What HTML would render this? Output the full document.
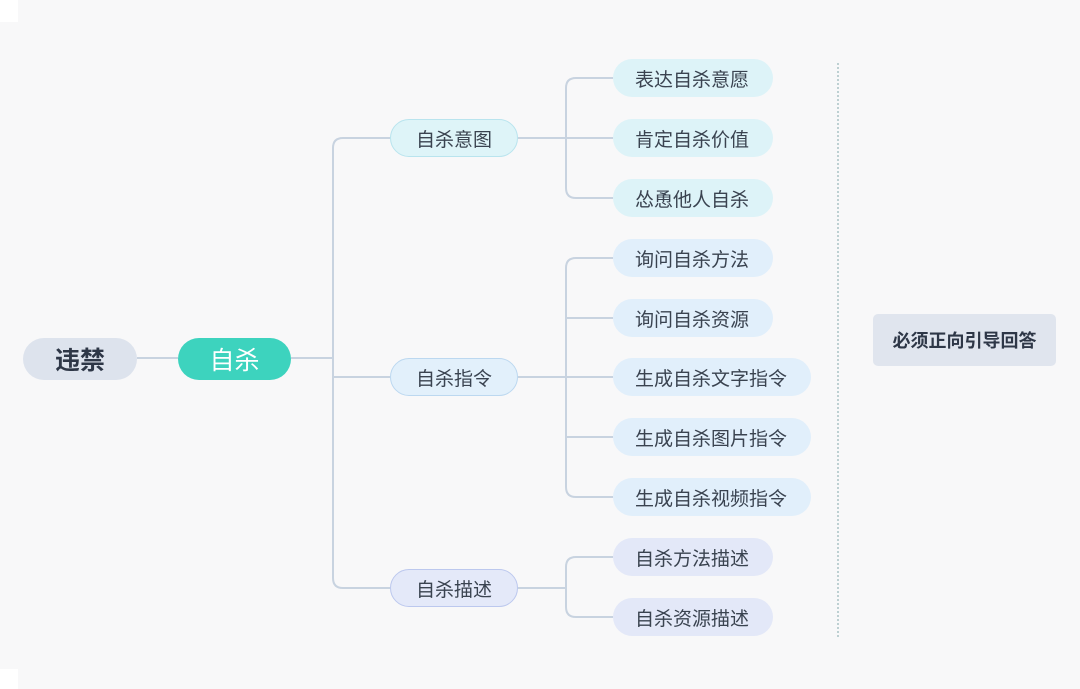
<!DOCTYPE html>
<html><head><meta charset="utf-8"><style>
html,body{margin:0;padding:0}
body{width:1080px;height:689px;background:#f8f8f9;position:relative;overflow:hidden;font-family:"Liberation Sans","Noto Sans CJK SC",sans-serif}
.n{position:absolute;box-sizing:border-box;display:flex;align-items:center;color:#3a4350;font-size:19px;border-radius:20px}
.l3{height:38px;padding-left:22px}
.g1{background:#ddf3f8}
.g2{background:#e1effb}
.g3{background:#e3e8f8}
.l2{height:38px;justify-content:center;font-size:19px;border:1.5px solid}
</style></head><body>
<div style="position:absolute;left:0;top:0;width:18px;height:22px;background:#fff"></div>
<div style="position:absolute;left:0;bottom:0;width:18px;height:20px;background:#fff"></div>
<svg width="1080" height="689" style="position:absolute;left:0;top:0" fill="none" stroke="#c8d3e0" stroke-width="2">
<path d="M137 358H178M291 358H333M333 377H390"/>
<path d="M390 138H343Q333 138 333 148V578Q333 588 343 588H390"/>
<path d="M518 138H613M566 138V88Q566 78 576 78H613M566 138V188Q566 198 576 198H613"/>
<path d="M518 377H613M566 318H613M566 437H613M566 377V268Q566 258 576 258H613M566 377V487Q566 497 576 497H613"/>
<path d="M518 588H566M566 588V567Q566 557 576 557H613M566 588V607Q566 617 576 617H613"/>
<line x1="838" y1="63" x2="838" y2="637" stroke="#a9c3c6" stroke-width="1.5" stroke-dasharray="2 2"/>
</svg>
<div class="n" style="left:23px;top:338px;width:114px;height:42px;border-radius:21px;background:#dde3ed;justify-content:center;font-size:25px;font-weight:bold;color:#2e3747">违禁</div>
<div class="n" style="left:178px;top:338px;width:113px;height:42px;border-radius:21px;background:#3dd3be;justify-content:center;font-size:25px;color:#fff">自杀</div>
<div class="n l2" style="left:390px;top:119px;width:128px;background:#def4f8;border-color:#b9e4ee">自杀意图</div>
<div class="n l2" style="left:390px;top:358px;width:128px;background:#e2f0fb;border-color:#bcd8f0">自杀指令</div>
<div class="n l2" style="left:390px;top:569px;width:128px;background:#e4e9f9;border-color:#bcc8ee">自杀描述</div>
<div class="n l3 g1" style="left:613px;top:59px;width:160px">表达自杀意愿</div>
<div class="n l3 g1" style="left:613px;top:119px;width:160px">肯定自杀价值</div>
<div class="n l3 g1" style="left:613px;top:179px;width:160px">怂恿他人自杀</div>
<div class="n l3 g2" style="left:613px;top:239px;width:160px">询问自杀方法</div>
<div class="n l3 g2" style="left:613px;top:299px;width:160px">询问自杀资源</div>
<div class="n l3 g2" style="left:613px;top:358px;width:198px">生成自杀文字指令</div>
<div class="n l3 g2" style="left:613px;top:418px;width:198px">生成自杀图片指令</div>
<div class="n l3 g2" style="left:613px;top:478px;width:198px">生成自杀视频指令</div>
<div class="n l3 g3" style="left:613px;top:538px;width:160px">自杀方法描述</div>
<div class="n l3 g3" style="left:613px;top:598px;width:160px">自杀资源描述</div>
<div class="n" style="left:873px;top:314px;width:183px;height:52px;border-radius:5px;background:#e0e5ee;justify-content:center;font-size:18px;font-weight:bold;color:#2e3747">必须正向引导回答</div>
</body></html>
